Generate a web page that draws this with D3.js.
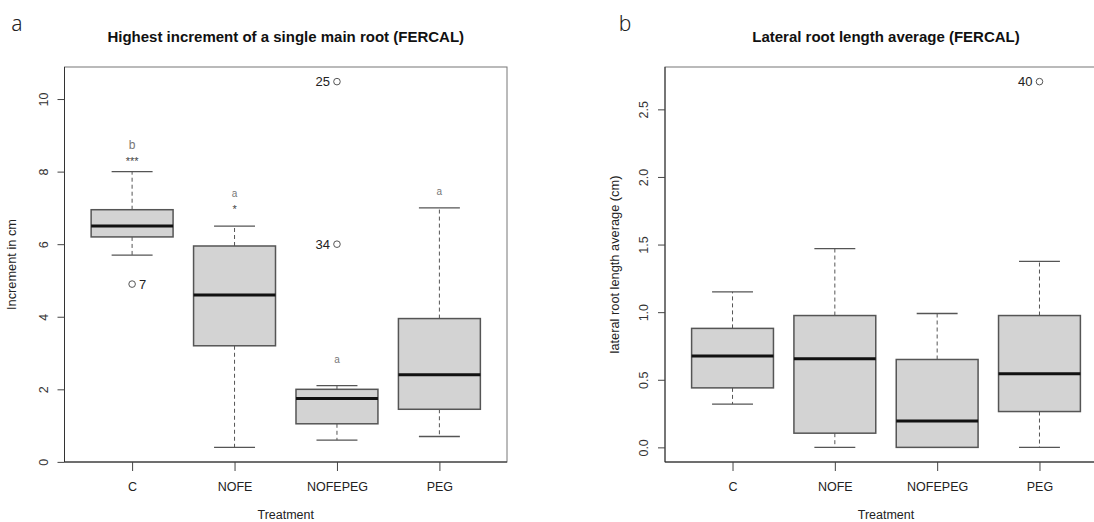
<!DOCTYPE html>
<html>
<head>
<meta charset="utf-8">
<script src="https://cdn.jsdelivr.net/npm/d3@7"></script>
<style>
  html, body { margin: 0; padding: 0; background: #fff; }
  svg { display: block; }
  text { font-family: "Liberation Sans", Arial, Helvetica, sans-serif; }
</style>
</head>
<body>
<svg id="chart" width="1094" height="522"></svg>
<script>
// Treatments shared by both panels
const categories = ["C", "NOFE", "NOFEPEG", "PEG"];

// Panel a: highest increment of a single main root (cm), five-number summaries
const incLower  = [5.7, 0.4, 0.6, 0.7];
const incQ1     = [6.2, 3.2, 1.05, 1.45];
const incMedian = [6.5, 4.6, 1.75, 2.4];
const incQ3     = [6.95, 5.95, 2.0, 3.95];
const incUpper  = [8.0, 6.5, 2.1, 7.0];
const incOutCat   = ["C", "NOFEPEG", "NOFEPEG"];
const incOutValue = [4.9, 10.48, 6.0];
const incOutId    = ["7", "25", "34"];
const incOutSide  = ["right", "left", "left"];
const incTicks = [0, 2, 4, 6, 8, 10];
// significance groups and stars above each box
const sigLetters = ["b", "a", "a", "a"];
const sigLetterAt = [8.62, 7.30, 2.73, 7.36];
const sigStars = ["***", "*", "", ""];
const sigStarAt = [8.18, 6.86, null, null];

// Panel b: lateral root length average (cm), five-number summaries
const latLower  = [0.32, 0, 0, 0];
const latQ1     = [0.44, 0.105, 0, 0.265];
const latMedian = [0.675, 0.655, 0.195, 0.545];
const latQ3     = [0.88, 0.975, 0.65, 0.975];
const latUpper  = [1.15, 1.47, 0.99, 1.375];
const latOutCat   = ["PEG"];
const latOutValue = [2.705];
const latOutId    = ["40"];
const latOutSide  = ["left"];
const latTicks = [0, 0.5, 1, 1.5, 2, 2.5];

const svg = d3.select("#chart");

function drawPanel(o) {
  const g = svg.append("g");
  const top = 67, bottom = 462;

  // R-style padded domains: 4% on each side
  const all = o.lower.concat(o.upper, o.outValue);
  const lo = d3.min(all), hi = d3.max(all), pad = (hi - lo) * 0.04;
  const y = d3.scaleLinear().domain([lo - pad, hi + pad]).range([bottom, top]);
  const x = d3.scaleLinear().domain([0.34, 4.66]).range([o.left, o.right]);
  const pos = c => x(categories.indexOf(c) + 1);
  const halfBox = x(1.4) - x(1), halfCap = x(1.2) - x(1);

  // panel letter
  g.append("text").attr("x", o.letterX).attr("y", 31)
    .attr("text-anchor", "middle")
    .style("font-family", "'Noto Sans', 'DejaVu Sans', sans-serif")
    .style("font-size", "21px").style("font-weight", 300).attr("fill", "#222")
    .text(o.letter);

  // title
  g.append("text").attr("x", (o.left + o.right) / 2).attr("y", 42)
    .attr("text-anchor", "middle").style("font-size", "15px").style("font-weight", "bold")
    .attr("fill", "#111").text(o.title);

  // frame
  g.append("rect").attr("x", o.left).attr("y", top)
    .attr("width", o.right - o.left).attr("height", bottom - top)
    .attr("fill", "none").attr("stroke", "#777").attr("stroke-width", 1);
  g.append("line").attr("x1", o.left).attr("x2", o.left).attr("y1", top).attr("y2", bottom)
    .attr("stroke", "#333");
  g.append("line").attr("x1", o.left).attr("x2", o.right).attr("y1", bottom).attr("y2", bottom)
    .attr("stroke", "#222");

  // y axis
  const ya = g.append("g").attr("transform", `translate(${o.left},0)`)
    .call(d3.axisLeft(y).tickValues(o.ticks).tickSize(7).tickFormat(o.fmt));
  ya.select(".domain").remove();
  ya.selectAll(".tick line").attr("stroke", "#444");
  ya.selectAll(".tick text")
    .attr("transform", "rotate(-90)").attr("x", 0).attr("y", -17).attr("dy", null)
    .attr("text-anchor", "middle").attr("fill", "#333")
    .style("font-size", "12.5px").style("font-family", "'Liberation Sans', Arial, sans-serif");

  // x axis
  const xa = g.append("g").attr("transform", `translate(0,${bottom})`)
    .call(d3.axisBottom(x).tickValues([1, 2, 3, 4]).tickSize(9)
      .tickFormat(d => categories[d - 1]));
  xa.select(".domain").remove();
  xa.selectAll(".tick line").attr("stroke", "#444");
  xa.selectAll(".tick text").attr("y", 29).attr("dy", null).attr("fill", "#222")
    .style("font-size", "12.5px").style("font-family", "'Liberation Sans', Arial, sans-serif");

  // axis titles
  g.append("text").attr("x", (o.left + o.right) / 2).attr("y", 518.5)
    .attr("text-anchor", "middle").style("font-size", "12.5px").attr("fill", "#222")
    .text("Treatment");
  g.append("text")
    .attr("transform", `translate(${o.ylabX},${(top + bottom) / 2}) rotate(-90)`)
    .attr("text-anchor", "middle").style("font-size", "12.8px").attr("fill", "#222")
    .text(o.ylab);

  // boxes
  const rows = categories.map((c, i) => ({
    c, lower: o.lower[i], q1: o.q1[i], med: o.median[i], q3: o.q3[i], upper: o.upper[i]
  }));
  const b = g.selectAll(".box").data(rows).join("g").attr("class", "box");
  // whiskers
  b.append("line").attr("x1", d => pos(d.c)).attr("x2", d => pos(d.c))
    .attr("y1", d => y(d.q3)).attr("y2", d => y(d.upper))
    .attr("stroke", "#555").attr("stroke-dasharray", "4,3");
  b.append("line").attr("x1", d => pos(d.c)).attr("x2", d => pos(d.c))
    .attr("y1", d => y(d.q1)).attr("y2", d => y(d.lower))
    .attr("stroke", "#555").attr("stroke-dasharray", "4,3");
  // staples
  b.append("line").attr("x1", d => pos(d.c) - halfCap).attr("x2", d => pos(d.c) + halfCap)
    .attr("y1", d => y(d.upper)).attr("y2", d => y(d.upper))
    .attr("stroke", "#555").attr("stroke-width", 1.3);
  b.append("line").attr("x1", d => pos(d.c) - halfCap).attr("x2", d => pos(d.c) + halfCap)
    .attr("y1", d => y(d.lower)).attr("y2", d => y(d.lower))
    .attr("stroke", "#555").attr("stroke-width", 1.3);
  // interquartile box
  b.append("rect").attr("x", d => pos(d.c) - halfBox).attr("width", 2 * halfBox)
    .attr("y", d => y(d.q3)).attr("height", d => y(d.q1) - y(d.q3))
    .attr("fill", "#d3d3d3").attr("stroke", "#555").attr("stroke-width", 1.5);
  // median
  b.append("line").attr("x1", d => pos(d.c) - halfBox).attr("x2", d => pos(d.c) + halfBox)
    .attr("y1", d => y(d.med)).attr("y2", d => y(d.med))
    .attr("stroke", "#111").attr("stroke-width", 3);

  // outliers with their ids
  o.outValue.forEach((v, i) => {
    const cx = pos(o.outCat[i]), cy = y(v);
    g.append("circle").attr("cx", cx).attr("cy", cy).attr("r", 3.3)
      .attr("fill", "none").attr("stroke", "#555").attr("stroke-width", 1);
    const left = o.outSide[i] === "left";
    g.append("text").attr("x", left ? cx - 7 : cx + 7).attr("y", cy + 4.6)
      .attr("text-anchor", left ? "end" : "start")
      .style("font-size", "13px").attr("fill", "#222").text(o.outId[i]);
  });

  // group letters and stars
  if (o.letters) {
    categories.forEach((c, i) => {
      g.append("text").attr("x", pos(c)).attr("y", y(o.letterAt[i]))
        .attr("text-anchor", "middle").attr("fill", "#777")
        .style("font-size", o.letters[i] === "b" ? "12px" : "10px").text(o.letters[i]);
      if (o.stars[i]) {
        g.append("text").attr("x", pos(c)).attr("y", y(o.starAt[i]))
          .attr("text-anchor", "middle").attr("fill", "#444")
          .style("font-size", "11px").text(o.stars[i]);
      }
    });
  }
}

drawPanel({
  letter: "a", letterX: 17, left: 64.5, right: 507, ylabX: 16,
  title: "Highest increment of a single main root (FERCAL)",
  ylab: "Increment in cm",
  lower: incLower, q1: incQ1, median: incMedian, q3: incQ3, upper: incUpper,
  outCat: incOutCat, outValue: incOutValue, outId: incOutId, outSide: incOutSide,
  ticks: incTicks, fmt: d3.format("d"),
  letters: sigLetters, letterAt: sigLetterAt, stars: sigStars, starAt: sigStarAt
});

drawPanel({
  letter: "b", letterX: 625, left: 665, right: 1107, ylabX: 619,
  title: "Lateral root length average (FERCAL)",
  ylab: "lateral root length average (cm)",
  lower: latLower, q1: latQ1, median: latMedian, q3: latQ3, upper: latUpper,
  outCat: latOutCat, outValue: latOutValue, outId: latOutId, outSide: latOutSide,
  ticks: latTicks, fmt: d3.format(".1f")
});
</script>
</body>
</html>
